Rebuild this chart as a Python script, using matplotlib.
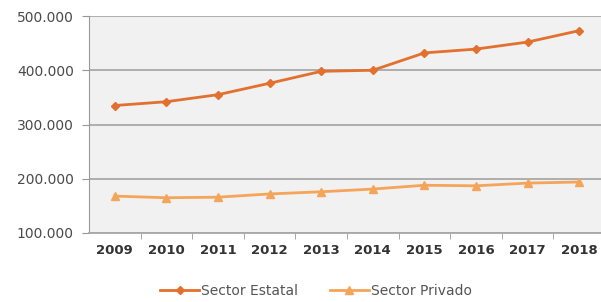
import matplotlib
matplotlib.use("Agg")
import matplotlib.pyplot as plt
from matplotlib.ticker import FixedLocator, FuncFormatter

years = ["2009", "2010", "2011", "2012", "2013", "2014", "2015", "2016", "2017", "2018"]
estatal = [335, 342, 355, 376, 398, 400, 432, 439, 452, 473]  # thousands
privado = [168, 165, 166, 172, 176, 181, 188, 187, 192, 194]  # thousands
yticks = [100, 200, 300, 400, 500]

fig = plt.figure(figsize=(6.01, 3.02), dpi=100)
ax = fig.add_axes([89/601, 1-233/302, (605-89)/601, (233-16)/302])
ax.set_facecolor("#f1f1f1")

x = list(range(len(years)))
ax.plot(x, estatal, color="#e2702e", marker="D", markersize=4.5, lw=2, label="Sector Estatal", zorder=3)
ax.plot(x, privado, color="#f4a55a", marker="^", markersize=5.5, lw=2, label="Sector Privado", zorder=3)

ax.set_xlim(-0.5, len(years)-0.5)
ax.set_ylim(100, 500)
ax.set_yticks(yticks)
ax.yaxis.set_major_formatter(FuncFormatter(lambda v, p: f"{int(v)}.000"))
ax.grid(axis="y", color="#a8a8a8", lw=1.3)
ax.set_axisbelow(True)

ax.set_xticks(x)
ax.set_xticklabels(years, fontweight="bold", fontsize=9.5, color="#333333")
ax.xaxis.set_minor_locator(FixedLocator([i+0.5 for i in range(len(years)-1)]))
ax.tick_params(axis="x", which="major", length=0, pad=8)
ax.tick_params(axis="x", which="minor", length=4, color="#999999", direction="out")
ax.tick_params(axis="y", length=5, color="#999999", labelsize=10, labelcolor="#4a4a4a", pad=6)

for s in ["top", "right"]:
    ax.spines[s].set_visible(False)
ax.spines["left"].set_color("#999999")
ax.spines["bottom"].set_color("#a8a8a8")
ax.spines["bottom"].set_linewidth(1.3)

fig.legend(loc="center", bbox_to_anchor=(316/601, 1-291/302), ncol=2, frameon=False,
           fontsize=10, labelcolor="#555555", handlelength=2.8, columnspacing=2.3,
           handletextpad=0.15)

fig.savefig("out.png", dpi=100)
